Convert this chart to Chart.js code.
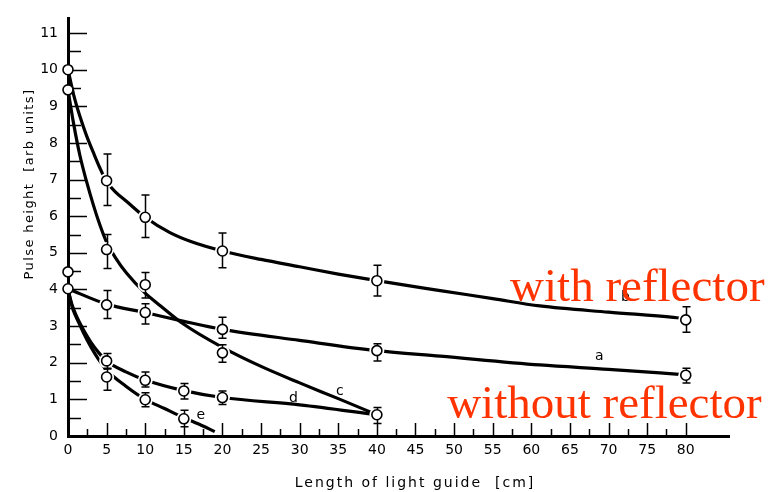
<!DOCTYPE html>
<html><head><meta charset="utf-8">
<script src="https://cdn.jsdelivr.net/npm/chart.js@4/dist/chart.umd.min.js"></script>
<style>html,body{margin:0;padding:0;background:#fff}</style>
</head><body>
<canvas id="c" width="780" height="492"></canvas>
<script>
// ---- measured data points (x = length of light guide [cm], y = pulse height) ----
const bX = [0, 5, 10, 20, 40, 80];
const bY = [10, 6.97, 5.97, 5.05, 4.24, 3.17];
const bHi = [null, 7.70, 6.58, 5.54, 4.66, 3.53];
const bLo = [null, 6.29, 5.42, 4.59, 3.82, 2.83];

const cX = [0, 5, 10, 20, 40];
const cY = [9.45, 5.09, 4.13, 2.27, 0.58];
const cHi = [null, 5.50, 4.46, 2.49, 0.78];
const cLo = [null, 4.57, 3.77, 2.01, 0.34];

const aX = [0, 5, 10, 20, 40, 80];
const aY = [4.02, 3.58, 3.37, 2.91, 2.33, 1.66];
const aHi = [null, 3.97, 3.61, 3.24, 2.52, 1.85];
const aLo = [null, 3.21, 3.06, 2.67, 2.05, 1.45];

const dX = [5, 10, 15, 20];
const dY = [2.05, 1.52, 1.23, 1.05];
const dHi = [2.25, 1.75, 1.43, 1.23];
const dLo = [1.85, 1.34, 1.01, 0.86];

const eX = [5, 10, 15];
const eY = [1.61, 0.99, 0.47];
const eHi = [1.83, 1.18, 0.70];
const eLo = [1.25, 0.80, 0.25];

const extraX = [0];
const extraY = [4.48];

// ---- fitted curves ----
const curveBx = [0, 0.75, 1.55, 2.4, 3.28, 4.1, 4.92, 6.2, 7.6, 10, 13.2, 16, 20, 25, 30, 35, 40, 48.2, 55, 61.1, 70, 78.4, 80];
const curveBy = [10, 9.3, 8.72, 8.2, 7.74, 7.33, 6.97, 6.65, 6.4, 5.97, 5.55, 5.3, 5.05, 4.82, 4.62, 4.42, 4.24, 3.97, 3.75, 3.55, 3.38, 3.24, 3.2];
const curveCx = [0, 0.75, 1.55, 2.4, 3.28, 4.1, 4.92, 6.2, 7.6, 10, 12, 15, 20, 25, 30, 35, 40];
const curveCy = [9.45, 8.5, 7.65, 6.95, 6.31, 5.78, 5.33, 4.85, 4.44, 3.9, 3.55, 3.05, 2.42, 1.9, 1.45, 1.02, 0.58];
const curveAx = [0, 5, 10, 15, 20, 30, 40, 48.2, 61.1, 70, 80];
const curveAy = [4.02, 3.6, 3.37, 3.13, 2.91, 2.61, 2.33, 2.18, 1.94, 1.82, 1.67];
const curveDx = [0, 0.5, 1, 1.5, 2, 3, 4, 5, 7.5, 10, 15, 20, 30, 40];
const curveDy = [4.0, 3.6, 3.32, 3.1, 2.9, 2.55, 2.27, 2.05, 1.75, 1.53, 1.24, 1.05, 0.85, 0.58];
const curveEx = [0, 0.5, 1, 1.5, 2, 3, 4, 5, 7.5, 10, 12.5, 15, 17, 19];
const curveEy = [4.0, 3.55, 3.27, 3.05, 2.82, 2.42, 2.08, 1.8, 1.36, 1.0, 0.75, 0.5, 0.32, 0.12];

// ---- text ----
const curveNames = ['a', 'b', 'c', 'd', 'e'];
const curveNameX = [68.8, 72.2, 35.2, 29.2, 17.2];
const curveNameY = [2.17, 3.79, 1.23, 1.02, 0.56];
const noteTexts = ['with reflector', 'without reflector'];
const noteX = [57.25, 49.1];
const noteY = [3.69, 0.48];
const xTitle = 'Length of light guide  [cm]';
const yTitle = 'Pulse height  [arb units]';

const pts = (xs, ys) => xs.map((x, i) => ({x, y: ys[i]}));

const curveDs = (xs, ys) => ({
  data: pts(xs, ys), showLine: true, borderColor: '#000', borderWidth: 3.2,
  pointRadius: 0, cubicInterpolationMode: 'monotone', fill: false, clip: false, order: 3
});
const markerDs = (xs, ys) => ({
  data: pts(xs, ys), showLine: false, pointRadius: 5, pointBorderWidth: 1.6,
  pointBackgroundColor: '#fff', pointBorderColor: '#000', clip: false, order: 1
});

const series = [
  {x: bX, y: bY, hi: bHi, lo: bLo},
  {x: cX, y: cY, hi: cHi, lo: cLo},
  {x: aX, y: aY, hi: aHi, lo: aLo},
  {x: dX, y: dY, hi: dHi, lo: dLo},
  {x: eX, y: eY, hi: eHi, lo: eLo}
];
const haloPts = [];
series.forEach(s => s.x.forEach((x, i) => { if (x > 0) haloPts.push({x, y: s.y[i]}); }));

const haloDs = {
  data: haloPts, showLine: false, pointRadius: 7.5, pointBorderWidth: 0,
  pointBackgroundColor: '#fff', pointBorderColor: '#fff', clip: false, order: 2, isHalo: true
};

const deco = {
  id: 'deco',
  beforeDatasetsDraw(chart) {
    const {ctx, chartArea: ca, scales: {x, y}} = chart;
    ctx.save();
    ctx.strokeStyle = '#000';
    ctx.lineWidth = 1.5;
    for (let v = 0.5; v <= 11.001; v += 0.5) {
      const py = Math.round(y.getPixelForValue(v)) + 0.5;
      const len = Number.isInteger(v) ? 19 : 13;
      ctx.beginPath(); ctx.moveTo(ca.left, py); ctx.lineTo(ca.left + len, py); ctx.stroke();
    }
    for (let v = 2.5; v <= 80.001; v += 2.5) {
      const px = Math.round(x.getPixelForValue(v)) + 0.5;
      const len = (v % 5 === 0) ? 13 : 7;
      ctx.beginPath(); ctx.moveTo(px, ca.bottom); ctx.lineTo(px, ca.bottom - len); ctx.stroke();
    }
    ctx.restore();
  },
  afterDatasetDraw(chart, args) {
    if (!chart.data.datasets[args.index].isHalo) return;
    const {ctx, scales: {x, y}} = chart;
    ctx.save();
    ctx.strokeStyle = '#000';
    ctx.lineWidth = 1.5;
    series.forEach(s => s.x.forEach((xv, i) => {
      if (s.hi[i] == null) return;
      const px = Math.round(x.getPixelForValue(xv)) + 0.5;
      const t = y.getPixelForValue(s.hi[i]);
      const b = y.getPixelForValue(s.lo[i]);
      ctx.beginPath();
      ctx.moveTo(px, t); ctx.lineTo(px, b);
      ctx.moveTo(px - 4, t); ctx.lineTo(px + 4, t);
      ctx.moveTo(px - 4, b); ctx.lineTo(px + 4, b);
      ctx.stroke();
    }));
    ctx.restore();
  },
  afterDraw(chart) {
    const {ctx, scales: {x, y}} = chart;
    ctx.save();
    ctx.fillStyle = '#000';
    ctx.font = '14px "DejaVu Sans"';
    ctx.textAlign = 'center';
    ctx.textBaseline = 'middle';
    curveNames.forEach((n, i) => ctx.fillText(n, x.getPixelForValue(curveNameX[i]), y.getPixelForValue(curveNameY[i])));
    // axis titles
    ctx.letterSpacing = '2px';
    ctx.font = '14px "DejaVu Sans"';
    ctx.fillText(xTitle, 415, 483);
    ctx.save();
    ctx.translate(30, 184);
    ctx.rotate(-Math.PI / 2);
    ctx.letterSpacing = '1.4px';
    ctx.font = '13px "DejaVu Sans"';
    ctx.fillText(yTitle, 0, 0);
    ctx.restore();
    ctx.letterSpacing = '0px';
    // red notes
    ctx.fillStyle = '#ff3300';
    ctx.font = '47px "Liberation Serif"';
    ctx.textAlign = 'left';
    ctx.textBaseline = 'alphabetic';
    noteTexts.forEach((t, i) => ctx.fillText(t, x.getPixelForValue(noteX[i]), y.getPixelForValue(noteY[i])));
    ctx.restore();
  }
};

const tickFont = {family: 'DejaVu Sans', size: 14};

new Chart(document.getElementById('c'), {
  type: 'scatter',
  data: {
    datasets: [
      curveDs(curveBx, curveBy),
      curveDs(curveCx, curveCy),
      curveDs(curveAx, curveAy),
      curveDs(curveDx, curveDy),
      curveDs(curveEx, curveEy),
      haloDs,
      markerDs(bX, bY),
      markerDs(cX, cY),
      markerDs(aX, aY),
      markerDs(dX, dY),
      markerDs(eX, eY),
      markerDs(extraX, extraY)
    ]
  },
  options: {
    responsive: false,
    devicePixelRatio: 1,
    animation: false,
    events: [],
    layout: {padding: {top: 10, right: 51, left: 0, bottom: 0}},
    plugins: {legend: {display: false}, tooltip: {enabled: false}, title: {display: false}},
    scales: {
      x: {
        type: 'linear', min: 0, max: 85.6,
        afterFit: s => { s.height = 56; },
        border: {display: true, color: '#000', width: 3},
        grid: {drawOnChartArea: false, drawTicks: false},
        ticks: {stepSize: 5, includeBounds: false, padding: 6, color: '#000', font: tickFont,
                autoSkip: false, maxRotation: 0, callback: v => (v <= 80 ? v : '')}
      },
      y: {
        type: 'linear', min: 0, max: 11.4,
        afterFit: s => { s.width = 68; },
        border: {display: true, color: '#000', width: 3},
        grid: {drawOnChartArea: false, drawTicks: false},
        ticks: {stepSize: 1, includeBounds: false, padding: 10, color: '#000', font: tickFont, autoSkip: false}
      }
    }
  },
  plugins: [deco]
});
</script>
</body></html>
